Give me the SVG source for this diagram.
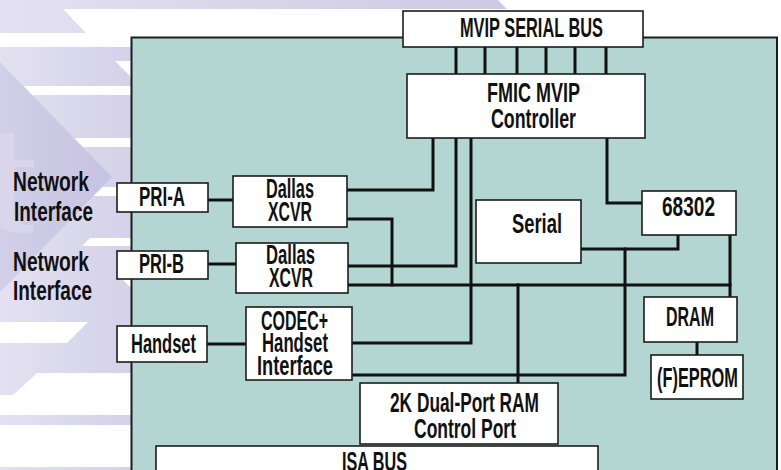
<svg xmlns="http://www.w3.org/2000/svg" width="781" height="470" viewBox="0 0 781 470">
<defs>
<linearGradient id="gTop" gradientUnits="userSpaceOnUse" x1="0" y1="0" x2="507" y2="0">
<stop offset="0" stop-color="#e3e1f1"/><stop offset="1" stop-color="#cdc9e4"/>
</linearGradient>
<linearGradient id="gLeft" gradientUnits="userSpaceOnUse" x1="0" y1="0" x2="132" y2="0">
<stop offset="0" stop-color="#e3e1f1"/><stop offset="1" stop-color="#d4d1e9"/>
</linearGradient>
<linearGradient id="gTri" gradientUnits="userSpaceOnUse" x1="0" y1="0" x2="115" y2="0">
<stop offset="0" stop-color="#d2cfe8"/><stop offset="1" stop-color="#c6c2e1"/>
</linearGradient>
<style>
.box{fill:#fff;stroke:#1c1c1c;stroke-width:1.6}
.w{fill:none;stroke:#111;stroke-width:3;stroke-linejoin:miter;stroke-linecap:square}
.t{font-family:"Liberation Sans",Arial,sans-serif;font-weight:bold;font-size:27px;fill:#111}
.wh{fill:#fff}
</style>
</defs>

<g id="background">
<rect x="0" y="0" width="781" height="470" fill="#fff"/>
<polygon points="0,0 498,0 507,9 63,9 86,33 0,33" fill="url(#gTop)"/>
<rect x="0" y="47" width="132" height="423" fill="url(#gLeft)"/>
<polygon class="wh" points="115,61 132,61 132,78"/>
<rect class="wh" x="0" y="86" width="132" height="9"/>
<rect class="wh" x="0" y="138" width="132" height="9"/>
<rect class="wh" x="0" y="187" width="132" height="9"/>
<polygon class="wh" points="90,238 132,238 132,246 82,246"/>
<polygon class="wh" points="118,275 132,275 132,289"/>
<polygon class="wh" points="0,322 88,322 67,343 0,343"/>
<polygon class="wh" points="37,373 132,373 132,415 0,415 0,395 13,395"/>
<rect class="wh" x="0" y="425" width="132" height="42"/>
<polygon points="0,62 112,177 0,292" fill="url(#gTri)"/>
<path d="M0,133 L14,133 L14,160 L34,160 L34,167 L14,167 L14,210 Q14,224 28,225 L33,225 L33,232 Q12,235 0,228 Z" fill="#d9d6ec"/>
</g>

<g id="board">
<rect x="131.5" y="37.5" width="645.5" height="445" fill="#b3d6d3" stroke="#1c1c1c" stroke-width="2"/>
</g>

<g id="connectors">
<path class="w" d="M456,47V74M485,47V74M517,47V74M546,47V74M575,47V74M606,47V74"/>
<path class="w" d="M433,138V190H347"/>
<path class="w" d="M456,138V266H348"/>
<path class="w" d="M471,138V343H352"/>
<path class="w" d="M607,138V203H642"/>
<path class="w" d="M347,219H392V285"/>
<path class="w" d="M348,285H730"/>
<path class="w" d="M730,235V297"/>
<path class="w" d="M678,235V249H581"/>
<path class="w" d="M625,249V375H352"/>
<path class="w" d="M518,285V383"/>
<path class="w" d="M208,200H233"/>
<path class="w" d="M208,264H236"/>
<path class="w" d="M207,344H246"/>
<path class="w" d="M697,342V355"/>
</g>

<g id="label-net1">
<text class="t" x="13" y="191" textLength="76" lengthAdjust="spacingAndGlyphs">Network</text>
<text class="t" x="14" y="221" textLength="79" lengthAdjust="spacingAndGlyphs">Interface</text>
</g>
<g id="label-net2">
<text class="t" x="13" y="271" textLength="76" lengthAdjust="spacingAndGlyphs">Network</text>
<text class="t" x="13" y="300" textLength="79" lengthAdjust="spacingAndGlyphs">Interface</text>
</g>

<g id="mvip">
<rect class="box" x="403" y="11" width="240" height="36"/>
<text class="t" x="460" y="37" textLength="143" lengthAdjust="spacingAndGlyphs">MVIP SERIAL BUS</text>
</g>
<g id="fmic">
<rect class="box" x="407" y="74" width="238" height="64"/>
<text class="t" x="487" y="102" textLength="93" lengthAdjust="spacingAndGlyphs">FMIC MVIP</text>
<text class="t" x="491" y="128" textLength="85" lengthAdjust="spacingAndGlyphs">Controller</text>
</g>
<g id="cpu68302">
<rect class="box" x="642" y="191" width="94" height="44"/>
<text class="t" x="662" y="216" textLength="53" lengthAdjust="spacingAndGlyphs">68302</text>
</g>
<g id="serial">
<rect class="box" x="476" y="200" width="105" height="63"/>
<text class="t" x="512" y="233" textLength="50" lengthAdjust="spacingAndGlyphs">Serial</text>
</g>
<g id="pri-a">
<rect class="box" x="117" y="183" width="91" height="29"/>
<text class="t" x="139" y="206" textLength="46" lengthAdjust="spacingAndGlyphs">PRI-A</text>
</g>
<g id="dallas1">
<rect class="box" x="233" y="176" width="114" height="51"/>
<text class="t" x="266" y="198" textLength="48" lengthAdjust="spacingAndGlyphs">Dallas</text>
<text class="t" x="268" y="221" textLength="44" lengthAdjust="spacingAndGlyphs">XCVR</text>
</g>
<g id="pri-b">
<rect class="box" x="117" y="251" width="91" height="28"/>
<text class="t" x="139" y="273" textLength="45" lengthAdjust="spacingAndGlyphs">PRI-B</text>
</g>
<g id="dallas2">
<rect class="box" x="236" y="243" width="112" height="50"/>
<text class="t" x="266" y="264" textLength="49" lengthAdjust="spacingAndGlyphs">Dallas</text>
<text class="t" x="269" y="287" textLength="44" lengthAdjust="spacingAndGlyphs">XCVR</text>
</g>
<g id="handset">
<rect class="box" x="117" y="326" width="90" height="36"/>
<text class="t" x="131" y="353" textLength="65" lengthAdjust="spacingAndGlyphs">Handset</text>
</g>
<g id="codec">
<rect class="box" x="246" y="307" width="106" height="73"/>
<text class="t" x="261" y="330" textLength="67" lengthAdjust="spacingAndGlyphs">CODEC+</text>
<text class="t" x="262" y="352" textLength="66" lengthAdjust="spacingAndGlyphs">Handset</text>
<text class="t" x="257" y="375" textLength="76" lengthAdjust="spacingAndGlyphs">Interface</text>
</g>
<g id="dpram">
<rect class="box" x="360" y="383" width="198" height="61"/>
<text class="t" x="390" y="412" textLength="149" lengthAdjust="spacingAndGlyphs">2K Dual-Port RAM</text>
<text class="t" x="414" y="438" textLength="102" lengthAdjust="spacingAndGlyphs">Control Port</text>
</g>
<g id="isa">
<rect class="box" x="156" y="446" width="442" height="40"/>
<text class="t" x="342" y="471" textLength="65" lengthAdjust="spacingAndGlyphs">ISA BUS</text>
</g>
<g id="dram">
<rect class="box" x="644" y="297" width="93" height="45"/>
<text class="t" x="666" y="326" textLength="48" lengthAdjust="spacingAndGlyphs">DRAM</text>
</g>
<g id="eprom">
<rect class="box" x="651" y="355" width="92" height="44"/>
<text class="t" x="657" y="387" textLength="81" lengthAdjust="spacingAndGlyphs">(F)EPROM</text>
</g>
</svg>
